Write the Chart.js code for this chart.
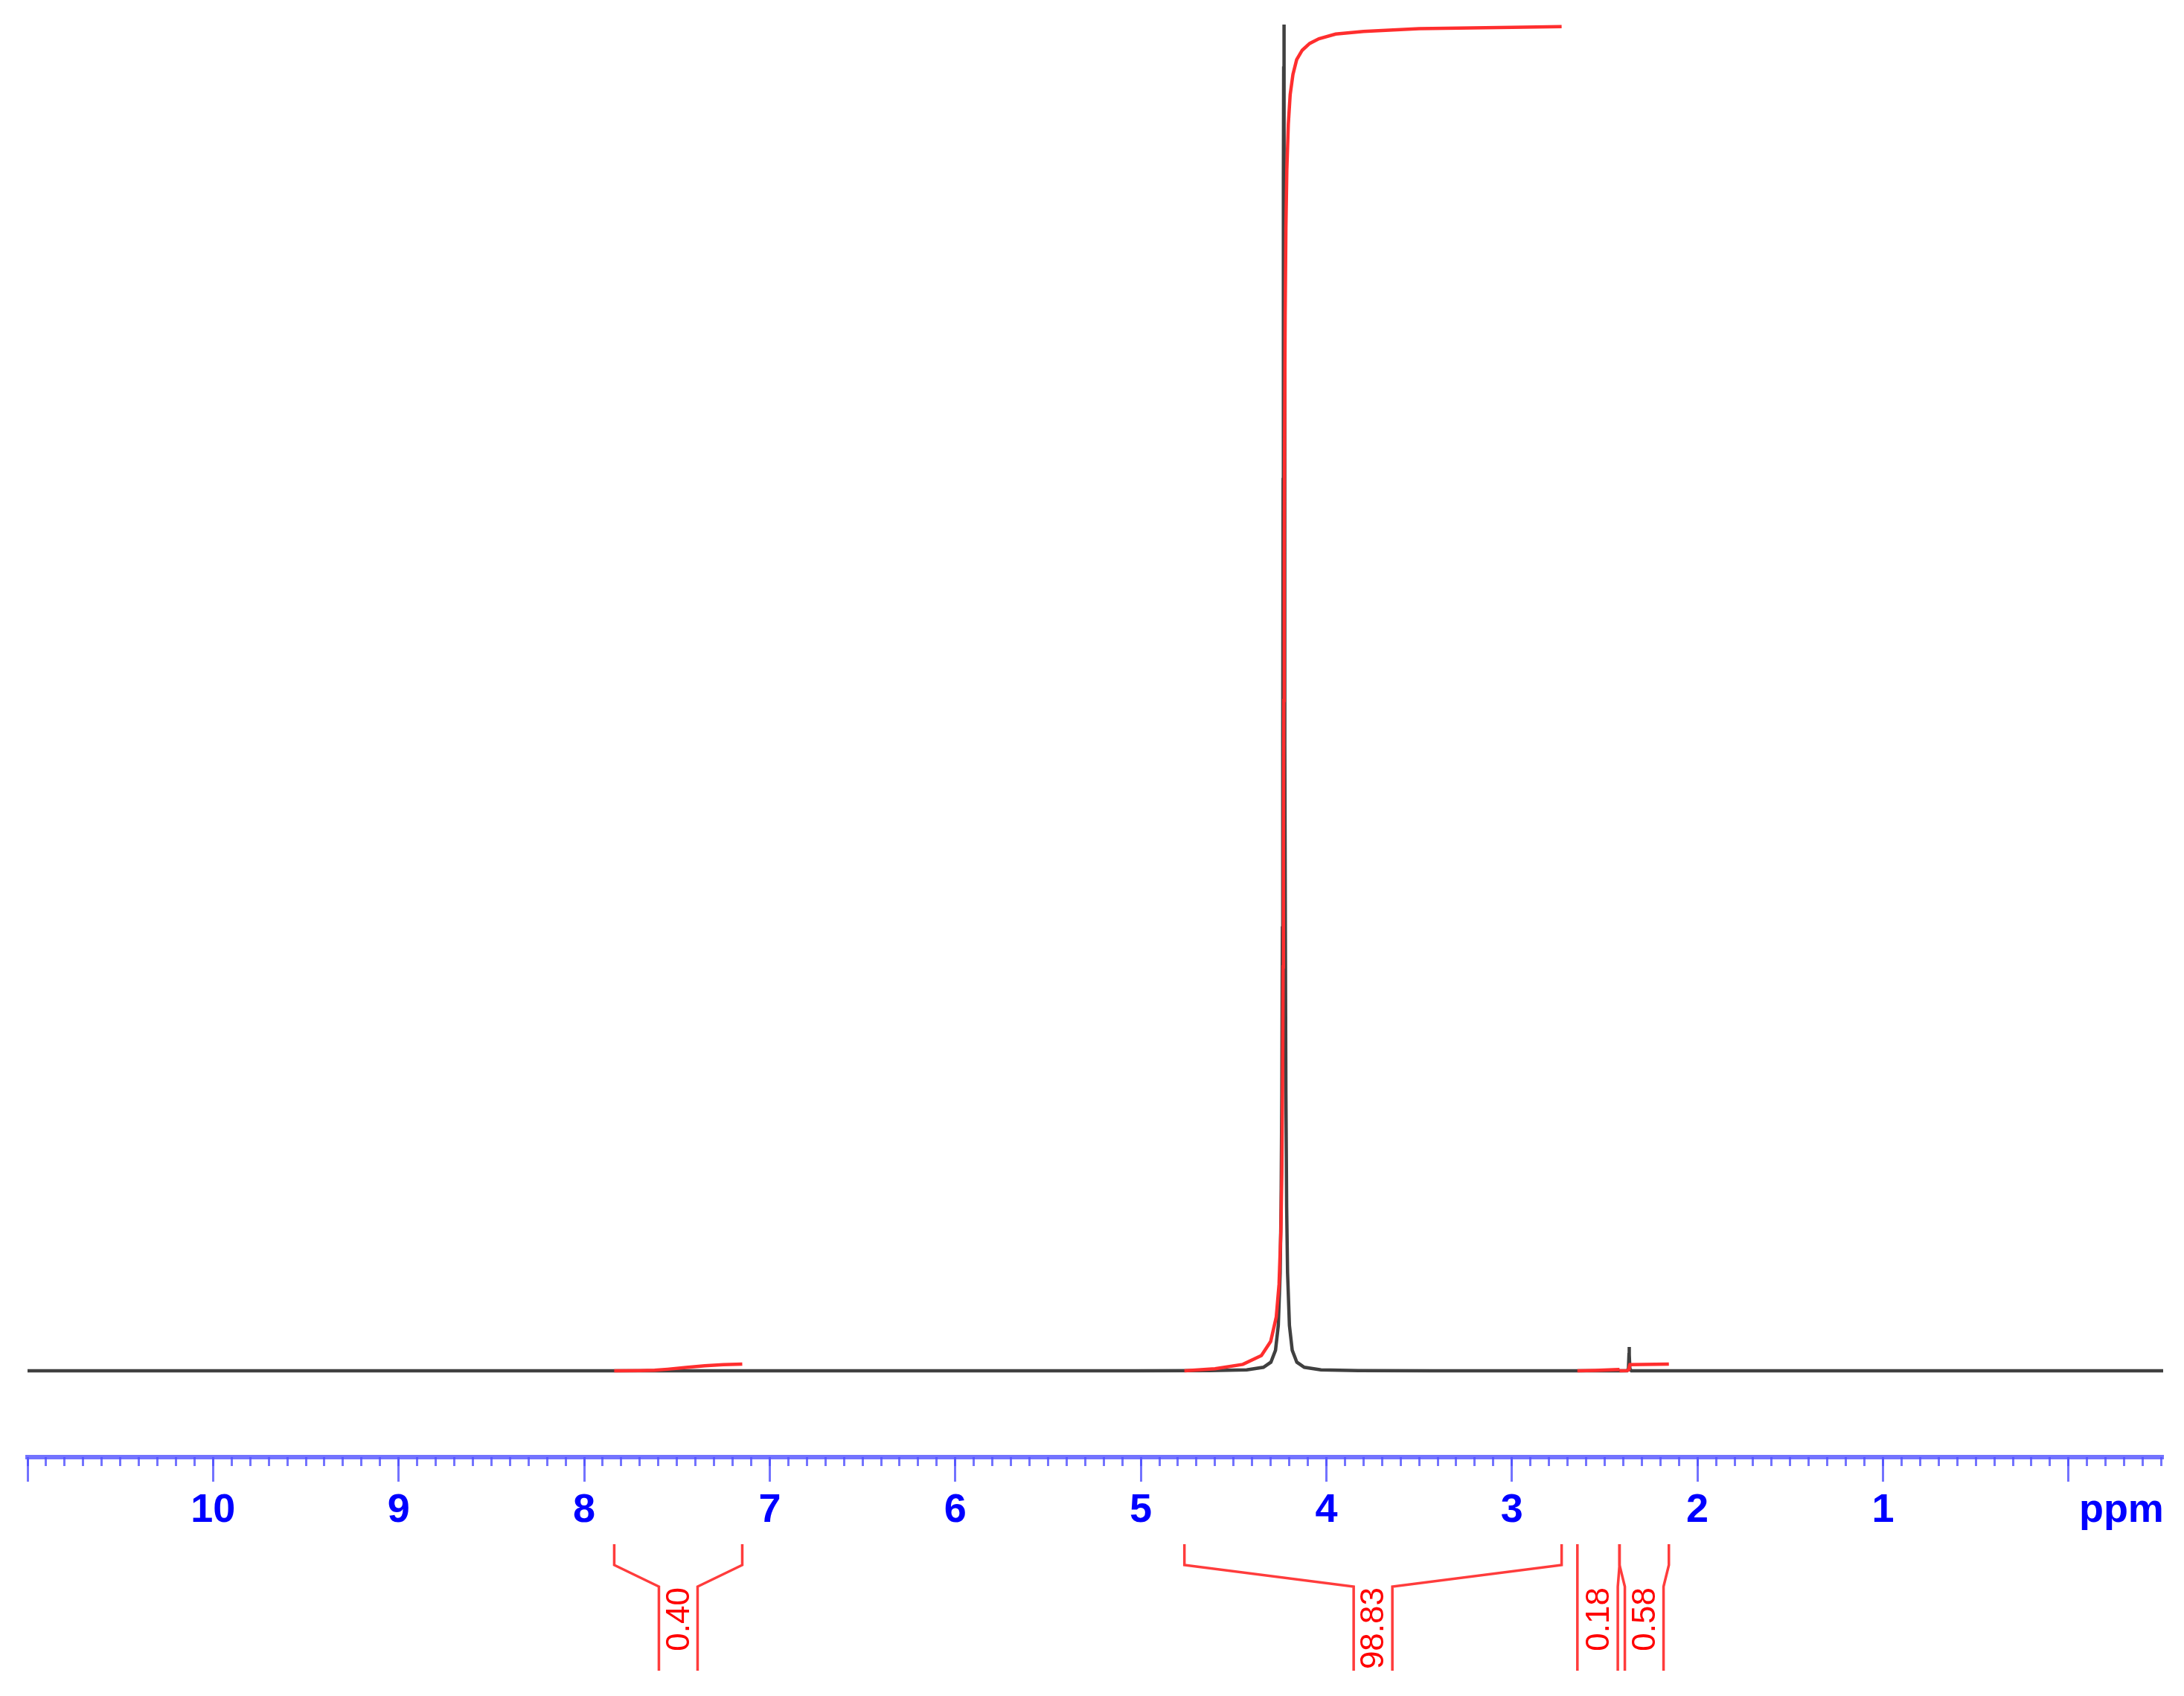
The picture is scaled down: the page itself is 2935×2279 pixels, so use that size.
<!DOCTYPE html>
<html>
<head>
<meta charset="utf-8">
<script src="https://cdn.jsdelivr.net/npm/chart.js@4.4.1/dist/chart.umd.min.js"></script>
<style>
  html, body { margin: 0; padding: 0; background: #ffffff; }
  #wrap { width: 2935px; height: 2279px; }
</style>
</head>
<body>
<div id="wrap"><canvas id="c" width="2935" height="2279"></canvas></div>
<script>
// ---------- DATA ----------
// 1H spectrum: chemical shift (ppm) and intensity (% of tallest peak)
const spectrumPpm = [11.0, 5.03, 4.629, 4.429, 4.339, 4.299, 4.274, 4.259, 4.249, 4.244, 4.240, 4.237, 4.235, 4.233, 4.232, 4.231, 4.230, 4.229, 4.228, 4.227, 4.226, 4.225, 4.223, 4.221, 4.218, 4.214, 4.209, 4.199, 4.184, 4.159, 4.119, 4.029, 3.829, 3.429, 2.380, 2.372, 2.369, 2.368, 2.367, 2.364, 2.356, -0.51];
const spectrumIntensity = [0, 0, 0.02, 0.078, 0.26, 0.64, 1.53, 3.37, 7.27, 12.2, 20.6, 32.9, 46.6, 66.2, 77.7, 88.7, 96.9, 100, 96.9, 88.7, 77.7, 66.2, 46.6, 32.9, 20.6, 12.2, 7.27, 3.37, 1.53, 0.64, 0.26, 0.078, 0.02, 0, 0, 0.15, 1.2, 1.77, 1.2, 0.15, 0, 0];

// integral curves (ppm, running integral in the same vertical units)
const integral1Ppm = [7.838, 7.70, 7.62, 7.55, 7.45, 7.35, 7.25, 7.148];
const integral1Val = [0, 0.01, 0.04, 0.12, 0.25, 0.37, 0.46, 0.50];
const integral2Ppm = [4.765, 4.6, 4.45, 4.35, 4.30, 4.27, 4.255, 4.245, 4.24, 4.236, 4.233, 4.231, 4.229, 4.227, 4.225, 4.222, 4.218, 4.213, 4.205, 4.195, 4.18, 4.16, 4.13, 4.09, 4.04, 3.95, 3.8, 3.5, 3.0, 2.732];
const integral2Val = [0, 0.15, 0.48, 1.14, 2.18, 3.99, 6.42, 10.4, 14.7, 21.2, 30.0, 38.8, 49.8, 60.7, 69.6, 78.4, 84.9, 89.2, 92.6, 94.8, 96.3, 97.4, 98.1, 98.6, 98.95, 99.3, 99.5, 99.7, 99.8, 99.85];
const integral3Ppm = [2.647, 2.55, 2.45, 2.42];
const integral3Val = [0, 0.03, 0.08, 0.10];
const integral4Ppm = [2.42, 2.38, 2.372, 2.369, 2.368, 2.367, 2.364, 2.154];
const integral4Val = [0, 0.02, 0.06, 0.20, 0.25, 0.30, 0.46, 0.50];

// integral regions shown under the axis
const integralFrom = [7.838, 4.765, 2.647, 2.42];
const integralTo = [7.148, 2.732, 2.42, 2.154];
const integralLabels = ['0.40', '98.83', '0.18', '0.58'];

// axis ticks
const majorTickValues = [11, 10, 9, 8, 7, 6, 5, 4, 3, 2, 1, 0, -0.285];
const majorTickLabels = ['', '10', '9', '8', '7', '6', '5', '4', '3', '2', '1', '', 'ppm'];
const minorTickStep = 0.1;

// axis ranges
const X_MIN = -0.51, X_MAX = 11.0;
const Y_MIN = -6.41, Y_MAX = 101.83;

// ---------- helpers ----------
const zip = (xs, ys) => xs.map((x, i) => ({ x: x, y: ys[i] }));

const minorTicks = [];
for (let v = Math.round(X_MIN * 10); v <= Math.round(X_MAX * 10); v++) {
  minorTicks.push({ value: v * minorTickStep });
}

const SPEC_COLOR = '#404040';
const INT_COLOR = '#ff2e2e';
const AXIS_COLOR = 'rgba(80,80,255,0.8)';

// brackets + labels for integrals (x from the chart's x scale)
const bracketPlugin = {
  id: 'integralBrackets',
  afterDraw(chart) {
    const ctx = chart.ctx;
    const xs = chart.scales.x;
    const B_TOP = 2075, B_KNEE = 2103, B_NECK = 2132, B_BOTTOM = 2245, B_HALF = 26, LABEL_TOP = 2133;
    ctx.save();
    ctx.strokeStyle = '#ff3c3c';
    ctx.lineWidth = 3.5;
    ctx.lineJoin = 'miter';
    integralFrom.forEach((from, i) => {
      const xa = xs.getPixelForValue(from);
      const xb = xs.getPixelForValue(integralTo[i]);
      const c = (xa + xb) / 2;
      const half = Math.abs(xb - xa) / 2 < B_HALF + 4 ? Math.abs(xb - xa) / 2 : B_HALF;
      ctx.beginPath();
      ctx.moveTo(xa, B_TOP); ctx.lineTo(xa, B_KNEE); ctx.lineTo(c - half, B_NECK); ctx.lineTo(c - half, B_BOTTOM);
      ctx.moveTo(xb, B_TOP); ctx.lineTo(xb, B_KNEE); ctx.lineTo(c + B_HALF, B_NECK); ctx.lineTo(c + B_HALF, B_BOTTOM);
      ctx.stroke();
      ctx.save();
      ctx.translate(c, LABEL_TOP);
      ctx.rotate(-Math.PI / 2);
      ctx.fillStyle = '#ff0000';
      ctx.font = '44px "Liberation Sans", Arial, sans-serif';
      ctx.textAlign = 'right';
      ctx.textBaseline = 'middle';
      ctx.fillText(integralLabels[i], 0, 2);
      ctx.restore();
    });
    ctx.restore();
  }
};

const intDataset = (ppm, val) => ({
  data: zip(ppm, val),
  borderColor: INT_COLOR,
  borderWidth: 4.5,
  pointRadius: 0,
  tension: 0,
  fill: false,
  order: 1
});

new Chart(document.getElementById('c'), {
  type: 'line',
  data: {
    datasets: [
      {
        data: zip(spectrumPpm, spectrumIntensity),
        borderColor: SPEC_COLOR,
        borderWidth: 4.5,
        pointRadius: 0,
        tension: 0,
        fill: false,
        order: 2
      },
      intDataset(integral1Ppm, integral1Val),
      intDataset(integral2Ppm, integral2Val),
      intDataset(integral3Ppm, integral3Val),
      intDataset(integral4Ppm, integral4Val)
    ]
  },
  options: {
    responsive: false,
    animation: false,
    devicePixelRatio: 1,
    layout: { padding: { top: 0, left: 37, right: 28, bottom: 321 } },
    plugins: { legend: { display: false }, tooltip: { enabled: false }, title: { display: false } },
    scales: {
      y: {
        type: 'linear',
        display: false,
        min: Y_MIN,
        max: Y_MAX
      },
      x: {
        type: 'linear',
        reverse: true,
        min: X_MIN,
        max: X_MAX,
        position: { y: Y_MIN },
        afterBuildTicks: (scale) => { scale.ticks = majorTickValues.map(v => ({ value: v })); },
        grid: {
          drawOnChartArea: false,
          drawTicks: true,
          tickLength: 30,
          tickWidth: 3,
          tickColor: (ctx) => (ctx.tick && ctx.tick.value < 0) ? 'rgba(0,0,0,0)' : AXIS_COLOR
        },
        border: { display: true, color: AXIS_COLOR, width: 6 },
        ticks: {
          autoSkip: false,
          maxRotation: 0,
          minRotation: 0,
          padding: 10,
          color: '#0000ff',
          font: { family: '"Liberation Sans", Arial, sans-serif', size: 54, weight: 'bold' },
          callback: (value, index) => majorTickLabels[index]
        }
      },
      x2: {
        type: 'linear',
        axis: 'x',
        reverse: true,
        min: X_MIN,
        max: X_MAX,
        position: { y: Y_MIN },
        afterBuildTicks: (scale) => { scale.ticks = minorTicks.map(t => ({ value: t.value })); },
        grid: {
          drawOnChartArea: false,
          drawTicks: true,
          tickLength: 12,
          tickWidth: 3,
          tickColor: AXIS_COLOR
        },
        border: { display: false },
        ticks: { display: false }
      }
    }
  },
  plugins: [bracketPlugin]
});
</script>
</body>
</html>
